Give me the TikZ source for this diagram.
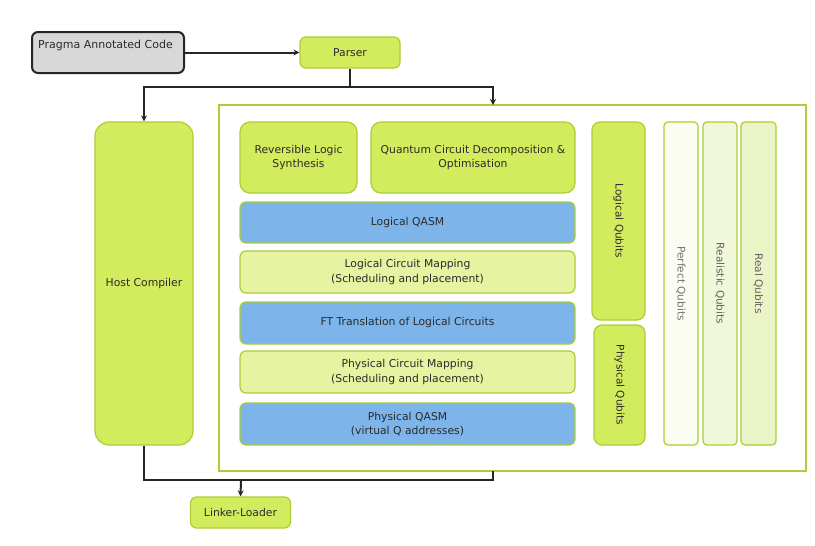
\documentclass[tikz,border=0pt]{standalone}
\usepackage{fontspec}
\setmainfont{DejaVu Sans}
\usetikzlibrary{arrows.meta}
\definecolor{limeF}{HTML}{D3EC5E}
\definecolor{limeD}{HTML}{A9CF35}
\definecolor{paleF}{HTML}{E6F3A0}
\definecolor{blueF}{HTML}{7DB4EA}
\definecolor{grayF}{HTML}{D8D8D8}
\definecolor{txt}{HTML}{2B2B2B}
\definecolor{q1}{HTML}{FBFDF2}
\definecolor{q2}{HTML}{F1F8DA}
\definecolor{q3}{HTML}{EAF4C6}
\tikzset{
  box/.style={draw=limeD, line width=1.2pt, rounded corners=6pt, inner sep=0pt, align=center, text=txt, font=\fontsize{10.8}{14.5}\selectfont},
  limebox/.style={box, fill=limeF},
  palebox/.style={box, fill=paleF},
  bluebox/.style={box, fill=blueF},
  rtext/.style={rotate=-90, font=\fontsize{10.5}{12}\selectfont},
  conn/.style={line width=2pt, black!85},
  arr/.style={conn, -{Stealth[length=6pt,width=6pt]}},
}
\begin{document}
\begin{tikzpicture}[x=1pt,y=-1pt]
\useasboundingbox (0,0) rectangle (815,546);
\fill[white] (0,0) rectangle (815,546);
% container
\node[draw=limeD, line width=1.2pt, fill=white, minimum width=587pt, minimum height=366pt, inner sep=0pt] (cont) at (512.5,288) {};
% top nodes
\node[draw=black!85, line width=2pt, fill=grayF, rounded corners=6pt, minimum width=152pt, minimum height=41pt, inner sep=0pt, anchor=north west] (prag) at (31,31) {};
\node[text=txt, font=\fontsize{11}{13}\selectfont, anchor=west, inner sep=0pt] (pragt) at (38,45) {Pragma Annotated Code};
\node[limebox, minimum width=100pt, minimum height=31pt] (parser) at (350,52.5) {Parser};
\node[limebox, rounded corners=14pt, minimum width=98pt, minimum height=323pt] (host) at (144,283.5) {Host Compiler};
\node[limebox, minimum width=100pt, minimum height=31pt] (link) at (240.5,512.5) {Linker-Loader};
% inner boxes
\node[limebox, rounded corners=10pt, minimum width=117pt, minimum height=71pt] (rev) at (298.5,157.5) {Reversible Logic\\Synthesis};
\node[limebox, rounded corners=10pt, minimum width=204pt, minimum height=71pt] (qcd) at (473,157.5) {Quantum Circuit Decomposition \&\\Optimisation};
\node[bluebox, minimum width=335pt, minimum height=41pt] (lqasm) at (407.5,222.5) {Logical QASM};
\node[palebox, minimum width=335pt, minimum height=42pt] (lmap) at (407.5,272) {Logical Circuit Mapping\\(Scheduling and placement)};
\node[bluebox, minimum width=335pt, minimum height=42pt] (ft) at (407.5,323) {FT Translation of Logical Circuits};
\node[palebox, minimum width=335pt, minimum height=42pt] (pmap) at (407.5,372) {Physical Circuit Mapping\\(Scheduling and placement)};
\node[bluebox, minimum width=335pt, minimum height=42pt] (pqasm) at (407.5,424) {Physical QASM\\(virtual Q addresses)};
% qubit columns
\node[limebox, rounded corners=8pt, minimum width=53pt, minimum height=198pt] (lq) at (618.5,221) {};
\node[rtext, text=txt] (lqt) at (lq.center) {Logical Qubits};
\node[limebox, rounded corners=8pt, minimum width=51pt, minimum height=120pt] (phq) at (619.5,385) {};
\node[rtext, text=txt] (phqt) at (phq.center) {Physical Qubits};
\node[box, rounded corners=4pt, fill=q1, minimum width=34pt, minimum height=323pt] (pq) at (681,283.5) {};
\node[rtext, text=black!55] (pqt) at (pq.center) {Perfect Qubits};
\node[box, rounded corners=4pt, fill=q2, minimum width=34pt, minimum height=323pt] (rq) at (720,283.5) {};
\node[rtext, text=black!62] (rqt) at (rq.center) {Realistic Qubits};
\node[box, rounded corners=4pt, fill=q3, minimum width=35pt, minimum height=323pt] (realq) at (758.5,283.5) {};
\node[rtext, text=black!62] (realqt) at (realq.center) {Real Qubits};
% connectors
\coordinate (split) at (350,87);
\coordinate (join) at (241,480);
\coordinate (cin) at (493,105);
\coordinate (cout) at (493,471);
\draw[arr] (prag.east) -- (parser.west);
\draw[conn] (parser.south) -- (split);
\draw[arr] (split) -| (host.north);
\draw[arr] (split) -| (cin);
\draw[conn] (host.south) |- (join);
\draw[conn] (cout) |- (join);
\draw[arr] (join) -- (link.north);
\end{tikzpicture}
\end{document}
